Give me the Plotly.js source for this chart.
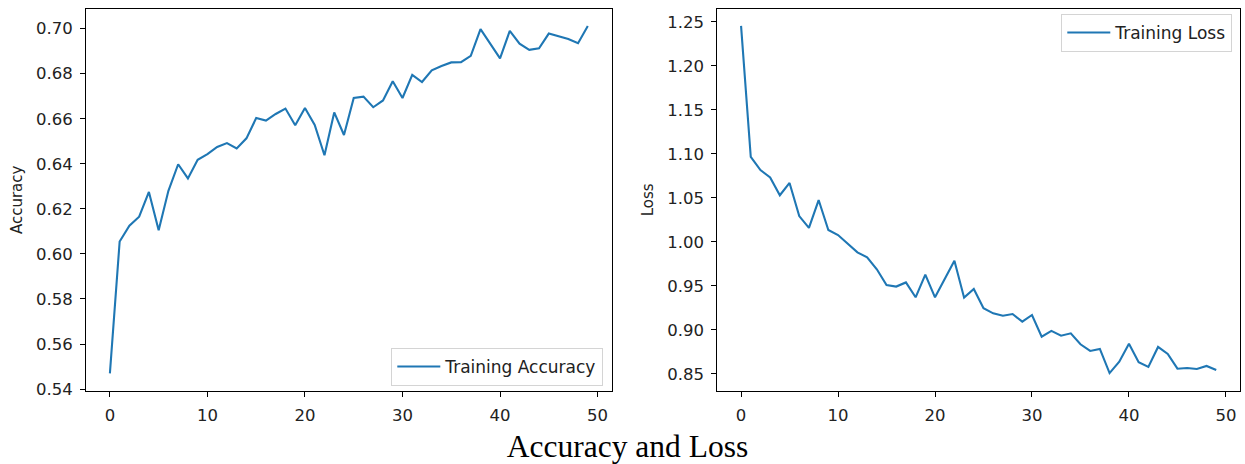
<!DOCTYPE html>
<html>
<head>
<meta charset="utf-8">
<script src="https://cdn.plot.ly/plotly-3.0.1.min.js"></script>
<style>html,body{margin:0;padding:0;background:#fff;}#chart{width:1245px;height:464px;}</style>
</head>
<body>
<div id="chart"></div>
<script>
const epochs = [0,1,2,3,4,5,6,7,8,9,10,11,12,13,14,15,16,17,18,19,20,21,22,23,24,25,26,27,28,29,30,31,32,33,34,35,36,37,38,39,40,41,42,43,44,45,46,47,48,49];
const trainingAccuracy = [0.547, 0.6055, 0.6125, 0.6165, 0.6275, 0.6105, 0.628, 0.6398, 0.6335, 0.6418,
  0.6443, 0.6475, 0.6492, 0.6468, 0.6513, 0.6603, 0.6592, 0.6621, 0.6645, 0.6571,
  0.6648, 0.6572, 0.6438, 0.6628, 0.6528, 0.6692, 0.6698, 0.6651, 0.6681, 0.6766,
  0.6692, 0.6795, 0.6763, 0.6815, 0.6834, 0.6850, 0.6851, 0.6879, 0.6998, 0.6935,
  0.6868, 0.6990, 0.6933, 0.6906, 0.6913, 0.6978, 0.6965, 0.6954, 0.6935, 0.7012];
const trainingLoss = [1.2455, 1.0967, 1.0816, 1.0733, 1.0530, 1.0670, 1.0294, 1.0160, 1.0476, 1.0135,
  1.0078, 0.9978, 0.9882, 0.9825, 0.9689, 0.9510, 0.9493, 0.9540, 0.9371, 0.9628,
  0.9371, 0.9578, 0.9787, 0.9367, 0.9466, 0.9246, 0.9189, 0.9162, 0.9181, 0.9094,
  0.9170, 0.8924, 0.8989, 0.8935, 0.8962, 0.8837, 0.8762, 0.8784, 0.8510, 0.8640,
  0.8844, 0.8633, 0.8580, 0.8807, 0.8727, 0.8560, 0.8568, 0.8557, 0.8591, 0.8546];
const xTicks = [0, 10, 20, 30, 40, 50];
const accTicks = [0.54, 0.56, 0.58, 0.60, 0.62, 0.64, 0.66, 0.68, 0.70];
const lossTicks = [0.85, 0.90, 0.95, 1.00, 1.05, 1.10, 1.15, 1.20, 1.25];

const W = 1245, H = 464;
const blue = '#1f77b4';
const tickFont = {family: 'DejaVu Sans', size: 16.5, color: '#222'};

function xAxis(domain, anchor) {
  return {
    domain: domain, anchor: anchor, range: [-2.45, 51.45],
    tickmode: 'array', tickvals: xTicks, ticktext: xTicks.map(String),
    ticks: 'outside', ticklen: 5, tickwidth: 1, tickcolor: '#000',
    showline: true, linecolor: '#000', linewidth: 1, mirror: true,
    showgrid: false, zeroline: false, tickfont: tickFont, ticklabelstandoff: 4
  };
}
function yAxis(range, ticks, title, anchor) {
  return {
    domain: [(H - 390.7) / H, (H - 9) / H], anchor: anchor, range: range,
    tickmode: 'array', tickvals: ticks, ticktext: ticks.map(v => v.toFixed(2)),
    ticks: 'outside', ticklen: 5, tickwidth: 1, tickcolor: '#000',
    showline: true, linecolor: '#000', linewidth: 1, mirror: true,
    showgrid: false, zeroline: false, tickfont: tickFont, ticklabelstandoff: 4,
    title: {text: title, font: {family: 'DejaVu Sans', size: 15, color: '#222'}, standoff: 9}
  };
}

const traces = [
  {x: epochs, y: trainingAccuracy, type: 'scatter', mode: 'lines', name: 'Training Accuracy',
   line: {color: blue, width: 2.1}, xaxis: 'x', yaxis: 'y', legend: 'legend'},
  {x: epochs, y: trainingLoss, type: 'scatter', mode: 'lines', name: 'Training Loss',
   line: {color: blue, width: 2.1}, xaxis: 'x2', yaxis: 'y2', legend: 'legend2'}
];

const legendStyle = {
  bgcolor: 'rgba(255,255,255,0.9)', bordercolor: '#d4d4d4', borderwidth: 1,
  itemwidth: 43,
  font: {family: 'DejaVu Sans', size: 17, color: '#222'}
};

const layout = {
  width: W, height: H,
  margin: {l: 0, r: 0, t: 0, b: 0},
  paper_bgcolor: '#fff', plot_bgcolor: '#fff',
  showlegend: true,
  title: {text: 'Accuracy and Loss', x: 0.504, xanchor: 'center', y: 0.038, yanchor: 'middle',
          font: {family: 'Liberation Serif, Times New Roman, serif', size: 31.5, color: '#000'}},
  xaxis: xAxis([86 / W, 611.7 / W], 'y'),
  yaxis: yAxis([0.5393, 0.7087], accTicks, 'Accuracy', 'x'),
  xaxis2: xAxis([717.3 / W, 1240 / W], 'y2'),
  yaxis2: yAxis([0.8310, 1.2646], lossTicks, 'Loss', 'x2'),
  legend: Object.assign({x: 603.3 / W, xanchor: 'right', y: (H - 367) / H, yanchor: 'middle'}, legendStyle),
  legend2: Object.assign({x: 1232.3 / W, xanchor: 'right', y: (H - 33) / H, yanchor: 'middle'}, legendStyle)
};

Plotly.newPlot('chart', traces, layout, {displayModeBar: false, staticPlot: true});
</script>
</body>
</html>
